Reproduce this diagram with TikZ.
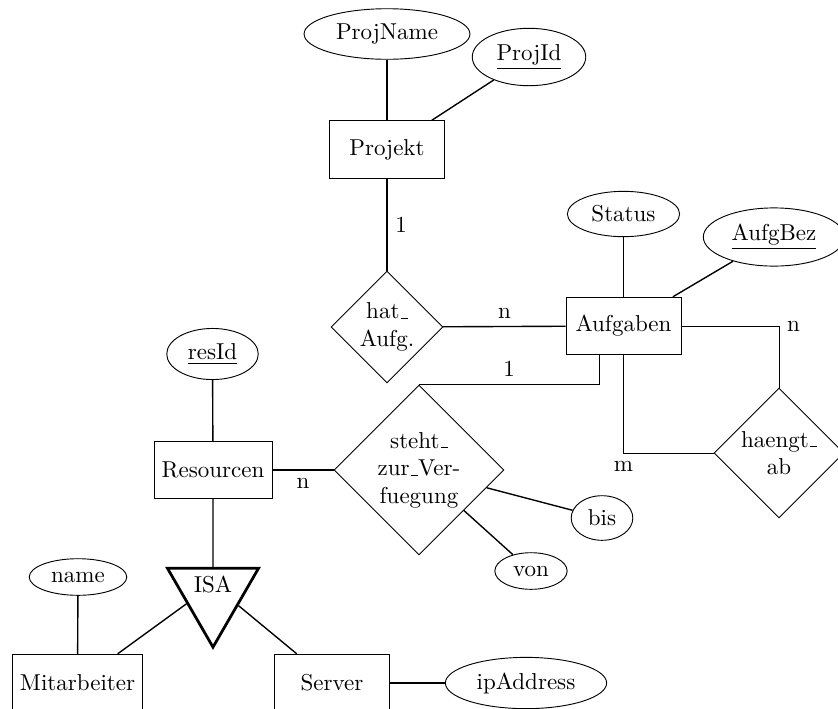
\documentclass[tikz,border=0pt]{standalone}
\usetikzlibrary{shapes.geometric}

\newcommand{\usc}{\leavevmode\kern.06em\vbox{\hrule width.3em}}

\begin{document}
\begin{tikzpicture}[x=0.4348pt, y=-0.4348pt,
    ent/.style={draw, rectangle, minimum width=50pt, minimum height=25pt},
    attr/.style={draw, ellipse},
    rel/.style={draw, diamond, aspect=1, align=center, inner sep=0pt},
    isa/.style={draw, very thick, isosceles triangle,
      isosceles triangle apex angle=60, shape border rotate=270},
    con/.style={semithick}]
  \useasboundingbox (0,0) rectangle (838,708);
  \clip (0,0) rectangle (838,708);

  % entities
  \node[ent] (proj) at (387,149.5) {Projekt};
  \node[ent] (auf) at (623.5,326) {Aufgaben};
  \node[ent] (res) at (213,470) {Resourcen};
  \node[ent] (mit) at (77.5,683) {Mitarbeiter};
  \node[ent] (srv) at (332,683) {Server};

  % attributes
  \node[attr] (pname) at (387,34) {ProjName};
  \node[attr] (pid) at (529,57) {\underline{ProjId}};
  \node[attr] (status) at (623.5,214) {Status};
  \node[attr] (abez) at (774,237) {\underline{AufgBez}};
  \node[attr] (resid) at (212.5,354) {\underline{resId}};
  \node[attr] (bis) at (602,518) {bis};
  \node[attr] (von) at (531,571) {von};
  \node[attr] (name) at (78,577) {name};
  \node[attr] (ip) at (526,683) {ipAddress};

  % relationships
  \node[rel, minimum size=48.7pt] (hat) at (387,327) {hat\usc\\Aufg.};
  \node[rel, minimum size=56.5pt] (haengt) at (779,453) {haengt\usc\\ab};
  \node[rel, minimum size=73.9pt] (steht) at (419,470) {steht\usc\\zur\usc Ver-\\fuegung};
  \node[isa] (isa) at (213,584.5) {ISA};

  \draw[con] (pname) -- (proj);
  \draw[con] (pid) -- (proj);
  \draw[con] (proj) -- node[right] {1} (hat);
  \draw[con] (hat) -- node[above] {n} (auf);
  \draw[con] (status) -- (auf);
  \draw[con] (abez) -- (auf);
  \draw (auf) -| node[right] {n} (haengt);
  \draw (auf) |- node[below] {m} (haengt);
  \draw (steht.north) -| node[pos=0.25, above] {1} (auf.230);
  \draw[con] (res) -- node[below] {n} (steht);
  \draw[con] (resid) -- (res);
  \draw[con] (steht) -- (bis);
  \draw[con] (steht) -- (von);
  \draw[con] (res) -- (isa);
  \draw[con] (isa) -- (mit);
  \draw[con] (isa) -- (srv);
  \draw[con] (name) -- (mit);
  \draw[con] (srv) -- (ip);
\end{tikzpicture}
\end{document}
